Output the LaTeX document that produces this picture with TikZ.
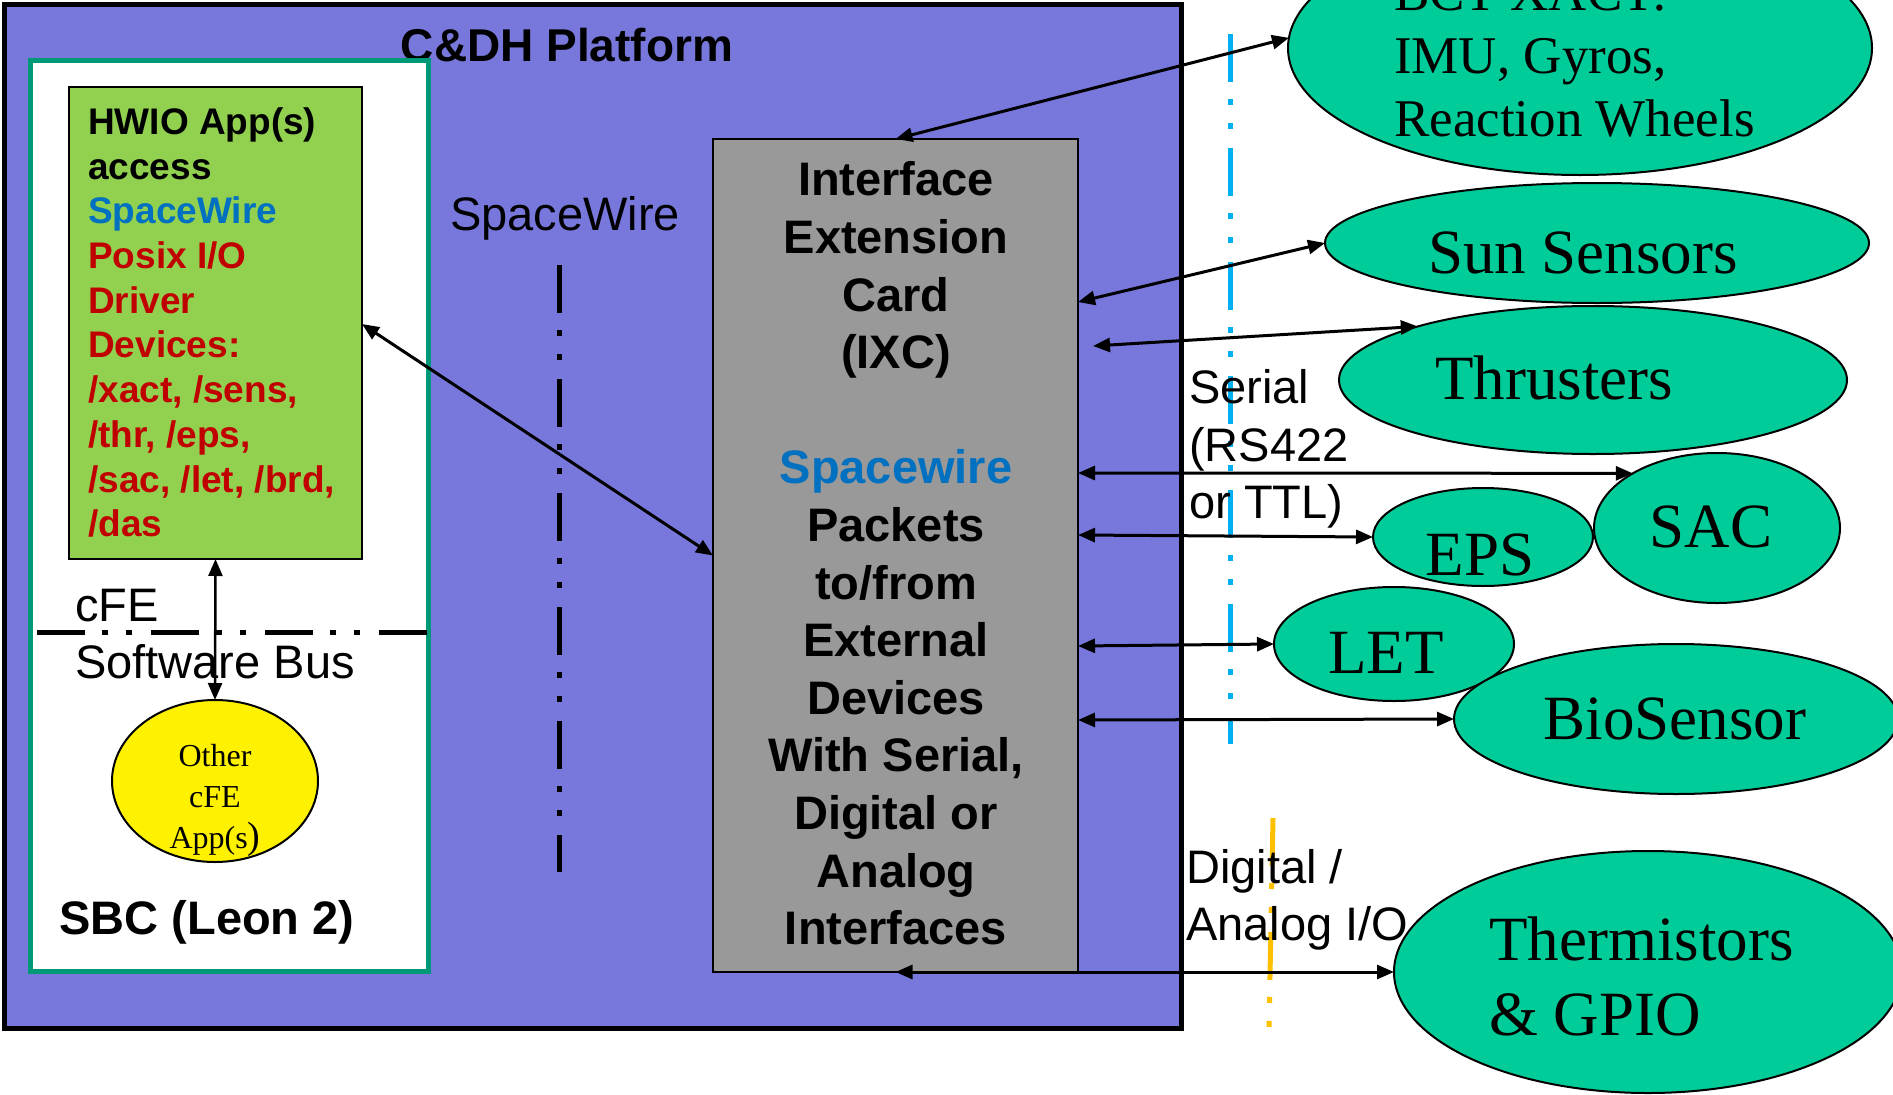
\documentclass[tikz,border=0pt]{standalone}
\usepackage{fontspec}
\setmainfont{Liberation Serif}
\setsansfont{Liberation Sans}
\usetikzlibrary{arrows.meta,shapes.geometric}

\definecolor{platform}{RGB}{120,120,220}
\definecolor{sbcedge}{RGB}{0,153,119}
\definecolor{hwiogreen}{RGB}{146,208,80}
\definecolor{ixcgray}{RGB}{153,153,153}
\definecolor{devgreen}{RGB}{0,204,153}
\definecolor{swblue}{RGB}{0,112,192}
\definecolor{drvred}{RGB}{192,0,0}
\definecolor{serialcyan}{RGB}{0,176,240}
\definecolor{dioorange}{RGB}{255,192,0}

\tikzset{
  box/.style={rectangle, draw=black, line width=2pt, inner sep=0pt, outer sep=0pt, anchor=north west},
  device/.style={ellipse, draw=black, line width=2pt, fill=devgreen, inner sep=0pt, outer sep=0pt},
  link/.style={line width=3pt, {Triangle[length=17pt,width=14pt]}-{Triangle[length=17pt,width=14pt]}},
  busline/.style={line width=5pt, dash pattern=on 48pt off 17pt on 6pt off 18pt on 6pt off 19pt},
  devtext/.style={font=\fontsize{63}{75}\selectfont, inner sep=0pt, anchor=base},
  sanslabel/.style={font=\sffamily\fontsize{47}{57.6}\selectfont, inner sep=0pt},
  boldlabel/.style={font=\sffamily\bfseries\fontsize{47}{57.6}\selectfont, inner sep=0pt},
}

\begin{document}
\begin{tikzpicture}[x=1pt,y=-1pt]
  \useasboundingbox (0,0) rectangle (1893,1095);
  \fill[white] (0,0) rectangle (1893,1095);
  \clip (0,0) rectangle (1893,1095);

  % C&DH platform enclosure
  \node[box, line width=5pt, fill=platform, minimum width=1176.5pt, minimum height=1023.5pt] (plat) at (4.5,4.5) {};
  \node[font=\sffamily\bfseries\fontsize{46}{55}\selectfont, inner sep=0pt, anchor=base] (plattitle) at (567,61) {C\&DH Platform};

  % single board computer
  \node[box, draw=sbcedge, line width=5pt, fill=white, minimum width=398pt, minimum height=911pt] (sbc) at (30,60) {};
  \node[box, fill=hwiogreen, minimum width=293pt, minimum height=472pt] (hwio) at (69,87) {};
  \node[font=\sffamily\bfseries\fontsize{37}{44.7}\selectfont, align=left, anchor=north west, inner sep=0pt] (hwiotext) at (88,103)
    {\strut HWIO App(s)\\
     access\\
     \textcolor{swblue}{SpaceWire}\\
     \textcolor{drvred}{Posix I/O}\\
     \textcolor{drvred}{Driver}\\
     \textcolor{drvred}{Devices:}\\
     \textcolor{drvred}{/xact, /sens,}\\
     \textcolor{drvred}{/thr, /eps,}\\
     \textcolor{drvred}{/sac, /let, /brd,}\\
     \textcolor{drvred}{/das}};

  % cFE software bus
  \draw[busline] (37,632) -- (428,632);
  \node[sanslabel, font=\sffamily\fontsize{47}{57}\selectfont, align=left, anchor=north west] (bustext) at (75,581)
    {\strut cFE\\Software Bus};
  \node[ellipse, draw=black, line width=2pt, fill=yellow, inner sep=0pt, outer sep=0pt,
        minimum width=206pt, minimum height=162pt] (other) at (215,781) {};
  \node[font=\fontsize{32}{41}\selectfont, align=center, anchor=north, inner sep=0pt] (othertext) at (215,738)
    {\strut Other\\cFE\\App(s{\fontsize{38}{41}\selectfont)}};
  \node[boldlabel, anchor=base] (sbctext) at (207,934) {SBC (Leon 2)};

  % SpaceWire link
  \node[sanslabel, anchor=base] (swlabel) at (565,230) {SpaceWire};
  \draw[busline] (559,265) -- (559,872);

  % interface extension card
  \node[box, fill=ixcgray, minimum width=365pt, minimum height=833pt] (ixc) at (713,139) {};
  \node[boldlabel, align=center, anchor=north] (ixctext) at (896,155.4)
    {\strut Interface\\
     Extension\\
     Card\\
     (IXC)\\[57.6pt]
     \textcolor{swblue}{Spacewire}\\
     Packets\\
     to/from\\
     External\\
     Devices\\
     With Serial,\\
     Digital or\\
     Analog\\
     Interfaces};

  % interface class boundaries
  \draw[busline, serialcyan] (1230,34) -- (1230,744);
  \draw[busline, dioorange] (1273,818) -- (1269,1028);
  \node[sanslabel, align=left, anchor=north west] (seriallabel) at (1189,363)
    {\strut Serial\\(RS422\\or TTL)};
  \node[sanslabel, align=left, anchor=north west] (diolabel) at (1186,842.7)
    {\strut Digital /\\Analog I/O};

  % external devices
  \node[device, minimum width=584pt, minimum height=254pt] (xact) at (1580,48) {};
  \node[font=\fontsize{53}{63}\selectfont, align=left, anchor=north west, inner sep=0pt] (xacttext) at (1394,-34)
    {\strut BCT XACT:\\IMU, Gyros,\\Reaction Wheels};
  \node[device, minimum width=544pt, minimum height=120pt] (sun) at (1597,243) {};
  \node[devtext] (suntext) at (1583,273) {Sun Sensors};
  \node[device, minimum width=508pt, minimum height=148pt] (thr) at (1593,380) {};
  \node[devtext] (thrtext) at (1554,399) {Thrusters};
  \node[device, minimum width=220pt, minimum height=98pt] (eps) at (1483,537) {};
  \node[devtext] (epstext) at (1480,575) {EPS};
  \node[device, minimum width=246pt, minimum height=150pt] (sac) at (1717,528) {};
  \node[devtext] (sactext) at (1711,547) {SAC};
  \node[device, minimum width=240pt, minimum height=114pt] (let) at (1394,644) {};
  \node[devtext] (lettext) at (1386,673) {LET};
  \node[device, minimum width=444pt, minimum height=150pt] (bio) at (1676,719) {};
  \node[devtext] (biotext) at (1675,739) {BioSensor};
  \node[device, minimum width=508pt, minimum height=242pt] (therm) at (1648,972) {};
  \node[font=\fontsize{63}{75}\selectfont, align=left, anchor=north west, inner sep=0pt] (thermtext) at (1489,907.5)
    {\strut Thermistors\\\& GPIO};

  % connections
  \draw[link, line width=2.5pt] (hwio.south) -- (other.north);
  \draw[link] ([yshift=-237pt]hwio.north east) -- (ixc.west);
  \draw[link] (ixc.north) -- (xact.178);
  \draw[link] ([yshift=-163pt]ixc.north east) -- (sun.west);
  \draw[link] ([xshift=15pt,yshift=-207pt]ixc.north east) -- (thr.163);
  \draw[link] ([yshift=-334pt]ixc.north east) -- (sac.147);
  \draw[link] ([yshift=-396pt]ixc.north east) -- (eps.west);
  \draw[link] ([yshift=-507pt]ixc.north east) -- (let.west);
  \draw[link] ([yshift=-581pt]ixc.north east) -- (bio.west);
  \draw[link] (ixc.south) -- (therm.west);
\end{tikzpicture}
\end{document}
